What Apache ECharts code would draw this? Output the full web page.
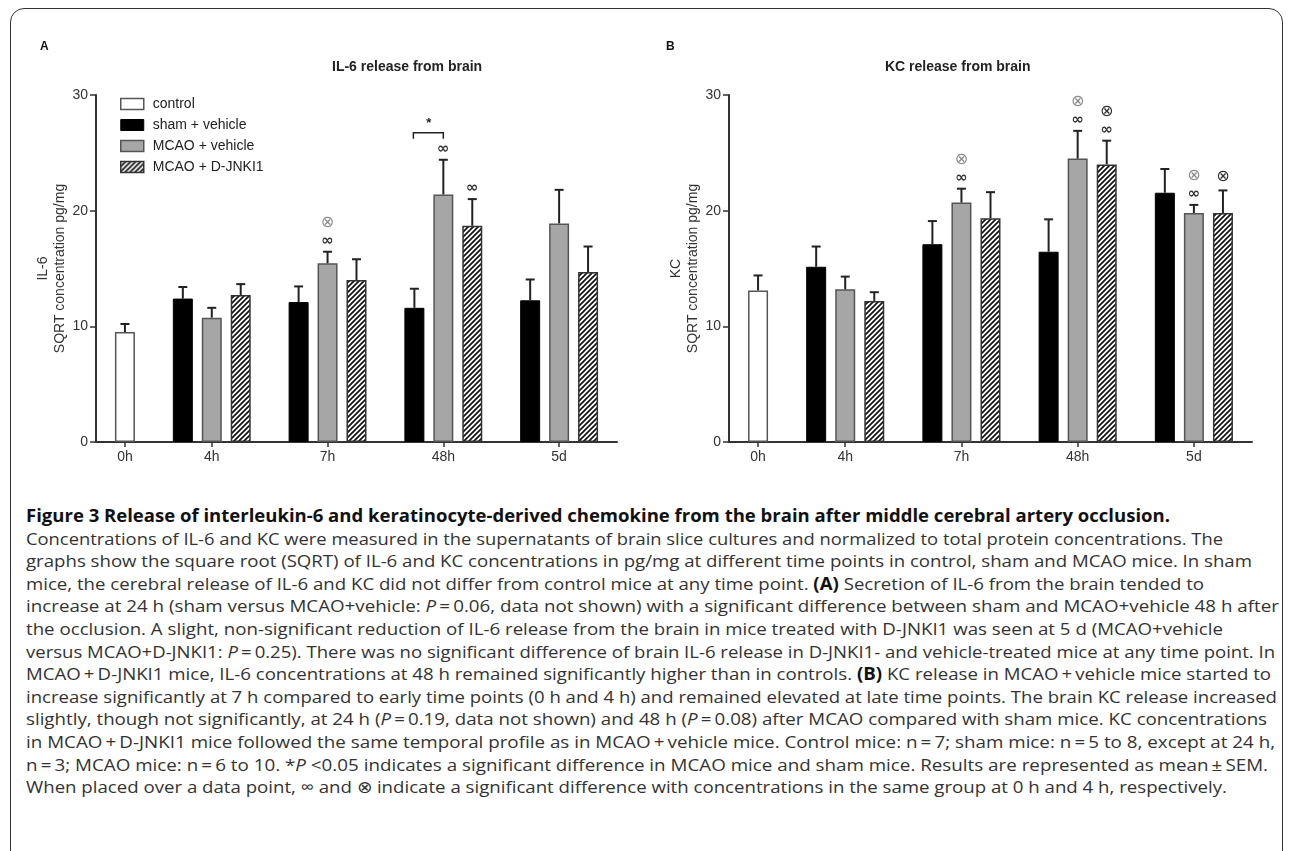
<!DOCTYPE html>
<html>
<head>
<meta charset="UTF-8">
<title>Figure 3</title>
<script src="https://cdn.jsdelivr.net/npm/echarts@6.0.0/dist/echarts.min.js"></script>
<style>
html,body{margin:0;padding:0;background:#fff;}
body{width:1290px;height:851px;position:relative;overflow:hidden;}
#frame{position:absolute;left:10px;top:8px;width:1271px;height:900px;border:1.5px solid #333;border-radius:14px 14px 0 0;}
#chart{position:absolute;left:0;top:0;width:1290px;height:480px;}
#caption{position:absolute;left:26px;top:505px;font-family:"Open Sans",sans-serif;font-size:17px;color:#333;}
#caption div{height:22.6px;line-height:22.6px;white-space:nowrap;transform-origin:0 50%;}
#caption b{color:#111;}
</style>
</head>
<body>
<div id="frame"></div>
<div id="chart"></div>
<div id="caption">
<div><b>Figure 3 Release of interleukin-6 and keratinocyte-derived chemokine from the brain after middle cerebral artery occlusion.</b></div>
<div>Concentrations of IL-6 and KC were measured in the supernatants of brain slice cultures and normalized to total protein concentrations. The</div>
<div>graphs show the square root (SQRT) of IL-6 and KC concentrations in pg/mg at different time points in control, sham and MCAO mice. In sham</div>
<div>mice, the cerebral release of IL-6 and KC did not differ from control mice at any time point. <b>(A)</b> Secretion of IL-6 from the brain tended to</div>
<div>increase at 24 h (sham versus MCAO+vehicle: <i>P</i>&thinsp;=&thinsp;0.06, data not shown) with a significant difference between sham and MCAO+vehicle 48 h after</div>
<div>the occlusion. A slight, non-significant reduction of IL-6 release from the brain in mice treated with D-JNKI1 was seen at 5 d (MCAO+vehicle</div>
<div>versus MCAO+D-JNKI1: <i>P</i>&thinsp;=&thinsp;0.25). There was no significant difference of brain IL-6 release in D-JNKI1- and vehicle-treated mice at any time point. In</div>
<div>MCAO&thinsp;+&thinsp;D-JNKI1 mice, IL-6 concentrations at 48 h remained significantly higher than in controls. <b>(B)</b> KC release in MCAO&thinsp;+&thinsp;vehicle mice started to</div>
<div>increase significantly at 7 h compared to early time points (0 h and 4 h) and remained elevated at late time points. The brain KC release increased</div>
<div>slightly, though not significantly, at 24 h (<i>P</i>&thinsp;=&thinsp;0.19, data not shown) and 48 h (<i>P</i>&thinsp;=&thinsp;0.08) after MCAO compared with sham mice. KC concentrations</div>
<div>in MCAO&thinsp;+&thinsp;D-JNKI1 mice followed the same temporal profile as in MCAO&thinsp;+&thinsp;vehicle mice. Control mice: n&thinsp;=&thinsp;7; sham mice: n&thinsp;=&thinsp;5 to 8, except at 24 h,</div>
<div>n&thinsp;=&thinsp;3; MCAO mice: n&thinsp;=&thinsp;6 to 10. *<i>P</i> &lt;0.05 indicates a significant difference in MCAO mice and sham mice. Results are represented as mean&thinsp;&plusmn;&thinsp;SEM.</div>
<div>When placed over a data point, &infin; and &otimes; indicate a significant difference with concentrations in the same group at 0 h and 4 h, respectively.</div>
</div>

<script type="text/javascript">
// time points on the x axis
var timeLabels = ['0h', '4h', '7h', '48h', '5d'];

// A) IL-6, SQRT pg/mg : mean and SEM (4h, 7h, 48h, 5d)
var il6Control = [9.5];
var il6ControlSem = [0.7];
var il6Sham = [12.4, 12.1, 11.6, 12.25];
var il6ShamSem = [1.0, 1.35, 1.65, 1.8];
var il6Vehicle = [10.75, 15.45, 21.4, 18.9];
var il6VehicleSem = [0.85, 1.0, 3.0, 2.9];
var il6Jnk = [12.7, 14.0, 18.7, 14.7];
var il6JnkSem = [0.95, 1.8, 2.3, 2.2];

// B) KC, SQRT pg/mg
var kcControl = [13.1];
var kcControlSem = [1.3];
var kcSham = [15.15, 17.1, 16.45, 21.55];
var kcShamSem = [1.75, 2.0, 2.8, 2.05];
var kcVehicle = [13.2, 20.7, 24.5, 19.8];
var kcVehicleSem = [1.1, 1.2, 2.4, 0.7];
var kcJnk = [12.2, 19.35, 24.0, 19.8];
var kcJnkSem = [0.75, 2.25, 2.05, 1.95];

// significance marks: [group, time index (1..4), marks]
var il6Marks = [['vehicle', 2, '∞⊗'], ['vehicle', 3, '∞'], ['jnk', 3, '∞']];
var kcMarks = [['vehicle', 2, '∞⊗'], ['vehicle', 3, '∞⊗'], ['jnk', 3, '∞⊗'], ['vehicle', 4, '∞⊗'], ['jnk', 4, '⊗']];
// sham vs MCAO+vehicle bracket (time index)
var il6Star = [3];

var seriesNames = ['control', 'sham + vehicle', 'MCAO + vehicle', 'MCAO + D-JNKI1'];
var FONT = '"Liberation Sans", Arial, sans-serif';

// hatch pattern "////"
function makeHatch(){
	var c = document.createElement('canvas');
	c.width = 5; c.height = 5;
	var ctx = c.getContext('2d');
	ctx.fillStyle = '#fff';
	ctx.fillRect(0, 0, 5, 5);
	ctx.strokeStyle = '#111';
	ctx.lineWidth = 1.7;
	ctx.beginPath();
	ctx.moveTo(0, 5); ctx.lineTo(5, 0);
	ctx.moveTo(-1, 1); ctx.lineTo(1, -1);
	ctx.moveTo(4, 6); ctx.lineTo(6, 4);
	ctx.stroke();
	return c;
}
var hatch = {image: makeHatch(), repeat: 'repeat'};

var styles = [
	{color: '#fff', borderColor: '#555', borderWidth: 1.5},
	{color: '#000', borderColor: '#000', borderWidth: 1},
	{color: '#a6a6a6', borderColor: '#555', borderWidth: 1.5},
	{color: hatch, borderColor: '#333', borderWidth: 1.5}
];

// x slot of a bar: 0h -> 0, others grouped by 3 with one empty slot
function slot(t, k){
	if (t === 0) return 0;
	return 4 * t - 2 + k;
}
var tickSlots = [0, 3, 7, 11, 15];

function panelSeries(gi, ctrl, ctrlSem, groups, sems, marks, stars){
	var out = [];
	var err = [[0, ctrl[0], ctrlSem[0]]];
	out.push({
		name: seriesNames[0], type: 'bar', xAxisIndex: gi, yAxisIndex: gi,
		barWidth: 20, barGap: '-100%', itemStyle: styles[0],
		data: [[0, ctrl[0]]]
	});
	for (var k = 0; k < 3; k++) {
		var d = [];
		for (var t = 1; t <= 4; t++) {
			d.push([slot(t, k), groups[k][t - 1]]);
			err.push([slot(t, k), groups[k][t - 1], sems[k][t - 1]]);
		}
		out.push({
			name: seriesNames[k + 1], type: 'bar', xAxisIndex: gi, yAxisIndex: gi,
			barWidth: 20, barGap: '-100%', itemStyle: styles[k + 1], data: d
		});
	}
	// error bars
	out.push({
		type: 'custom', xAxisIndex: gi, yAxisIndex: gi, z: 3, silent: true,
		encode: {x: 0, y: 1},
		data: err,
		renderItem: function(params, api){
			var x = api.value(0), m = api.value(1), s = api.value(2);
			var b = api.coord([x, m]), t = api.coord([x, m + s]);
			var ls = {stroke: '#222', lineWidth: 2};
			return {type: 'group', children: [
				{type: 'line', shape: {x1: b[0], y1: b[1], x2: t[0], y2: t[1]}, style: ls},
				{type: 'line', shape: {x1: t[0] - 4.5, y1: t[1], x2: t[0] + 4.5, y2: t[1]}, style: ls}
			]};
		}
	});
	// significance symbols
	var keyIdx = {sham: 0, vehicle: 1, jnk: 2};
	var markData = marks.map(function(m){
		var k = keyIdx[m[0]], t = m[1];
		return [slot(t, k), groups[k][t - 1] + sems[k][t - 1]];
	});
	out.push({
		type: 'custom', xAxisIndex: gi, yAxisIndex: gi, z: 4, silent: true,
		encode: {x: 0, y: 1},
		data: markData,
		renderItem: function(params, api){
			var m = marks[params.dataIndex];
			var p = api.coord([api.value(0), api.value(1)]);
			var oColor = m[0] === 'jnk' ? '#333' : '#8c8c8c';
			var kids = [];
			var hasInf = m[2].indexOf('∞') >= 0;
			if (hasInf) {
				kids.push({type: 'text', style: {text: '∞', x: p[0], y: p[1] - 11, align: 'center', verticalAlign: 'middle',
					fill: '#333', font: 'bold 15px "DejaVu Sans"'}});
			}
			if (m[2].indexOf('⊗') >= 0) {
				kids.push({type: 'text', style: {text: '⊗', x: p[0], y: p[1] - (hasInf ? 29 : 14), align: 'center', verticalAlign: 'middle',
					fill: oColor, font: '16px "DejaVu Sans"'}});
			}
			return {type: 'group', children: kids};
		}
	});
	// * bracket between sham and MCAO+vehicle
	if (stars.length) {
		var starData = stars.map(function(t){
			var top = Math.max(groups[0][t - 1] + sems[0][t - 1], groups[1][t - 1] + sems[1][t - 1]);
			return [slot(t, 0), top, slot(t, 1)];
		});
		out.push({
			type: 'custom', xAxisIndex: gi, yAxisIndex: gi, z: 4, silent: true,
			encode: {x: 0, y: 1},
			data: starData,
			renderItem: function(params, api){
				var a = api.coord([api.value(0), api.value(1)]);
				var b = api.coord([api.value(2), api.value(1)]);
				var y = a[1] - 27;
				var ls = {stroke: '#222', lineWidth: 1.5, fill: null};
				return {type: 'group', children: [
					{type: 'polyline', shape: {points: [[a[0] - 1, y + 6], [a[0] - 1, y], [b[0], y], [b[0], y + 6]]}, style: ls},
					{type: 'text', style: {text: '*', x: (a[0] + b[0]) / 2, y: y - 9, align: 'center', verticalAlign: 'middle',
						fill: '#222', font: 'bold 13px ' + FONT}}
				]};
			}
		});
	}
	return out;
}

function xAxisOf(gi){
	return {
		type: 'value', gridIndex: gi, min: -1, max: 17,
		splitLine: {show: false},
		axisLine: {onZero: false, lineStyle: {color: '#333', width: 2}},
		axisTick: {customValues: tickSlots, length: 5, lineStyle: {width: 1.5, color: '#333'}},
		axisLabel: {customValues: tickSlots, margin: 8, fontSize: 14, color: '#333', fontFamily: FONT,
			formatter: function(v){ return timeLabels[tickSlots.indexOf(v)] || ''; }}
	};
}
function yAxisOf(gi, name){
	return {
		type: 'value', gridIndex: gi, min: 0, max: 30, interval: 10,
		splitLine: {show: false},
		axisLine: {show: true, onZero: false, lineStyle: {color: '#333', width: 2}},
		axisTick: {show: true, length: 6, lineStyle: {width: 1.5, color: '#333'}},
		axisLabel: {margin: 8, fontSize: 14, color: '#333', fontFamily: FONT},
		name: name, nameLocation: 'middle', nameGap: 27, nameRotate: 90,
		nameTextStyle: {fontSize: 14, lineHeight: 17, color: '#333', fontFamily: FONT, align: 'center'}
	};
}

var chart = echarts.init(document.getElementById('chart'));
var option = {
	animation: false,
	title: [
		{text: 'A', left: 40, top: 41, padding: 0, textStyle: {fontSize: 12, fontWeight: 'bold', color: '#111', fontFamily: FONT}},
		{text: 'B', left: 666, top: 41, padding: 0, textStyle: {fontSize: 12, fontWeight: 'bold', color: '#111', fontFamily: FONT}},
		{text: 'IL-6 release from brain', left: 332, top: 60, padding: 0, textStyle: {fontSize: 14, fontWeight: 'bold', color: '#222', fontFamily: FONT}},
		{text: 'KC release from brain', left: 885, top: 60, padding: 0, textStyle: {fontSize: 14, fontWeight: 'bold', color: '#222', fontFamily: FONT}}
	],
	legend: {
		left: 120, top: 97, orient: 'vertical', padding: 0,
		itemWidth: 23, itemHeight: 11, itemGap: 7, icon: 'rect', selectedMode: false,
		textStyle: {fontSize: 14, color: '#222', fontFamily: FONT, padding: [0, 0, 0, 4]},
		data: seriesNames.map(function(n, i){
			return {name: n, itemStyle: {borderColor: styles[i].borderColor, borderWidth: styles[i].borderWidth}};
		})
	},
	grid: [
		{left: 96, top: 95, width: 521, height: 347},
		{left: 729, top: 95, width: 523, height: 347}
	],
	xAxis: [xAxisOf(0), xAxisOf(1)],
	yAxis: [yAxisOf(0, 'IL-6\nSQRT concentration pg/mg'), yAxisOf(1, 'KC\nSQRT concentration pg/mg')],
	series: [].concat(
		panelSeries(0, il6Control, il6ControlSem, [il6Sham, il6Vehicle, il6Jnk], [il6ShamSem, il6VehicleSem, il6JnkSem], il6Marks, il6Star),
		panelSeries(1, kcControl, kcControlSem, [kcSham, kcVehicle, kcJnk], [kcShamSem, kcVehicleSem, kcJnkSem], kcMarks, [])
	)
};
chart.setOption(option);

// fit caption lines to the widths of the printed figure
var captionEnds = [1170, 1223, 1252, 1204, 1279, 1223, 1275, 1271, 1277, 1267, 1275, 1268, 1227];
var lines = document.querySelectorAll('#caption div');
for (var i = 0; i < lines.length; i++) {
	var r = document.createRange();
	r.selectNodeContents(lines[i]);
	var w = r.getBoundingClientRect().width;
	if (w > 0) lines[i].style.transform = 'scaleX(' + ((captionEnds[i] - 26) / w).toFixed(4) + ')';
}
</script>
</body>
</html>
